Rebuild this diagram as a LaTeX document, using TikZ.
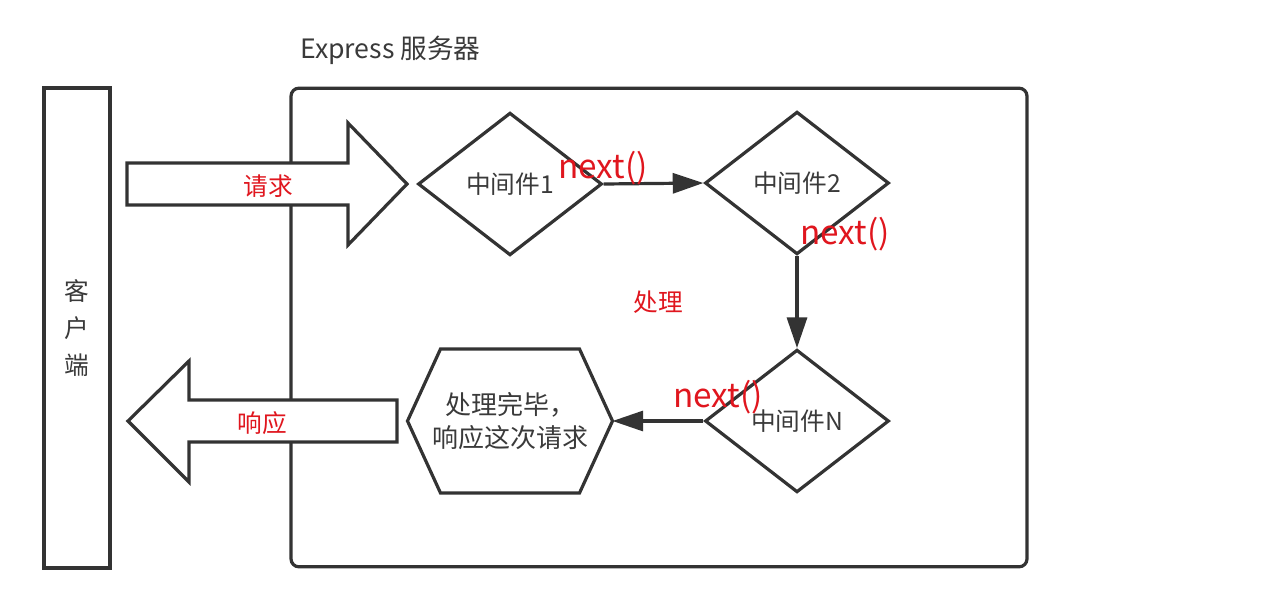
\documentclass[tikz,border=0pt]{standalone}
\usepackage{fontspec}
\setmainfont{Noto Sans CJK SC}
\usetikzlibrary{shapes.geometric,arrows.meta}
\definecolor{linegray}{HTML}{333333}
\definecolor{txtgray}{HTML}{3A3A3A}
\definecolor{redtxt}{HTML}{E0161E}
\begin{document}
\begin{tikzpicture}[x=0.75pt,y=-0.75pt,
  line/.style={draw=linegray,line width=2.4pt},
  mid/.style={diamond,line,fill=white,minimum width=138pt,minimum height=107pt,inner sep=0pt,text=txtgray,font=\fontsize{18.5}{22}\selectfont},
  nextlbl/.style={text=redtxt,font=\fontsize{25}{28}\selectfont,inner sep=0pt},
  redlbl/.style={text=redtxt,font=\fontsize{18.5}{22}\selectfont,inner sep=0pt},
  flow/.style={draw=linegray,line width=2.4pt,-{Triangle[length=23pt,width=15pt]}},
  blockarrow/.style={draw=linegray,line width=2.4pt,fill=white,line join=miter}
]
\useasboundingbox (0,0) rectangle (1284,607);
\node[anchor=west,text=txtgray,font=\fontsize{20}{24}\selectfont,inner sep=0pt] (title) at (300,50) {Express 服务器};
\node[line,rounded corners=6pt,minimum width=552pt,minimum height=359pt,inner sep=0pt] (server) at (659,327.5) {};
\node[line,minimum width=49.5pt,minimum height=360pt,inner sep=0pt,align=center,text=txtgray,font=\fontsize{18.5}{27.5}\selectfont] (client) at (77,328) {客\\户\\端};
\draw[blockarrow] (127,163) -- (348,163) -- (348,123) -- (407,184) -- (348,245) -- (348,205) -- (127,205) -- cycle;
\node[redlbl] (req) at (268,186) {请求};
\draw[blockarrow] (397,400) -- (189,400) -- (189,361) -- (128,421) -- (189,482) -- (189,442) -- (397,442) -- cycle;
\node[redlbl] (resp) at (262,423) {响应};
\node[mid] (m1) at (510,184) {中间件1};
\node[mid] (m2) at (797,183) {中间件2};
\node[mid] (mN) at (797,421) {中间件N};
\node[minimum width=153.75pt,minimum height=108pt,inner sep=0pt,outer sep=0pt,align=center,text=txtgray,font=\fontsize{19.5}{25}\selectfont] (done) at (510,421) {处理完毕，\\响应这次请求};
\draw[line,line join=miter] ([xshift=24.75pt]done.north west) -- ([xshift=-24.75pt]done.north east) -- (done.east) -- ([xshift=-24.75pt]done.south east) -- ([xshift=24.75pt]done.south west) -- (done.west) -- cycle;
\draw[flow] (m1.east) -- (m2.west);
\draw[flow] (m2.south) -- (mN.north);
\draw[flow] (mN.west) -- (done.east);
\node[nextlbl] (n1) at (603,168) {next()};
\node[nextlbl] (n2) at (845,234) {next()};
\node[nextlbl] (n3) at (718,397) {next()};
\node[redlbl] (proc) at (658,302) {处理};
\end{tikzpicture}
\end{document}
